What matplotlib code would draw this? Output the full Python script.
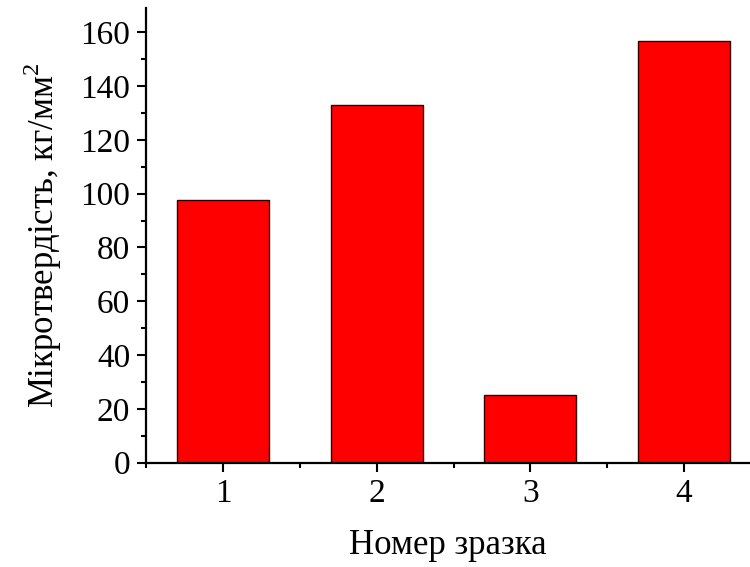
import matplotlib
matplotlib.use('Agg')
import matplotlib.pyplot as plt
from matplotlib.ticker import MultipleLocator

plt.rcParams['font.family'] = ['Liberation Serif', 'DejaVu Serif']
plt.rcParams['mathtext.fontset'] = 'custom'
plt.rcParams['mathtext.rm'] = 'Liberation Serif'

samples = [1, 2, 3, 4]
hardness = [97.7, 133.0, 25.3, 156.6]

fig = plt.figure(figsize=(7.5, 5.67), dpi=100)
ax = fig.add_axes([0.195, 0.184, 0.805, 0.802])

ax.bar(samples, hardness, width=0.6, color='#ff0000', edgecolor='#300000', linewidth=1.0)

ax.set_xlim(0.5, 4.43)
ax.set_ylim(0, 169)
ax.set_xticks(samples)
ax.set_xticks([0.5, 1.5, 2.5, 3.5], minor=True)
ax.yaxis.set_major_locator(MultipleLocator(20))
ax.yaxis.set_minor_locator(MultipleLocator(10))

ax.spines['top'].set_visible(False)
ax.spines['right'].set_visible(False)
for s in ['left', 'bottom']:
    ax.spines[s].set_linewidth(1.6)

ax.tick_params(which='major', direction='out', length=6.5, width=1.5, labelsize=24, pad=5)
ax.tick_params(which='minor', direction='out', length=3.5, width=1.5)

ax.set_xlabel('Номер зразка', fontsize=25, labelpad=14)
ax.set_ylabel('Мікротвердість, кг/мм$^2$', fontsize=25, labelpad=12)

fig.savefig('out.png', dpi=100)
